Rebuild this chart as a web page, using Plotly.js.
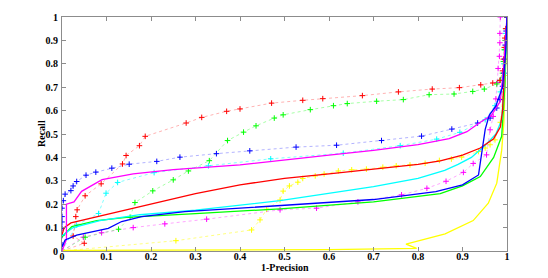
<!DOCTYPE html>
<html>
<head>
<meta charset="utf-8">
<script src="https://cdn.plot.ly/plotly-3.0.1.min.js"></script>
<style>html,body{margin:0;padding:0;background:#fff;}#chart{width:548px;height:278px;}</style>
</head>
<body>
<div id="chart"></div>
<script>
// ---- tick labels ----
const tickVals = [0,0.1,0.2,0.3,0.4,0.5,0.6,0.7,0.8,0.9,1];
const tickText = ["0","0.1","0.2","0.3","0.4","0.5","0.6","0.7","0.8","0.9","1"];

// ---- solid curves (x = 1-Precision, y = Recall) ----
const redSolidX = [0,0.005,0.02,0.1,0.2,0.3,0.4,0.5,0.6,0.7,0.8,0.85,0.9,0.94,0.97,0.985,0.99,0.995,1];
const redSolidY = [0.07,0.1,0.12,0.155,0.2,0.245,0.283,0.31,0.33,0.35,0.37,0.385,0.41,0.44,0.48,0.53,0.6,0.8,1];

const magentaSolidX = [0,0.005,0.01,0.01,0.027,0.044,0.09,0.16,0.25,0.4,0.5,0.6,0.7,0.8,0.87,0.91,0.94,0.965,0.985,0.993,1];
const magentaSolidY = [0,0.03,0.05,0.2,0.21,0.255,0.305,0.33,0.348,0.368,0.39,0.41,0.43,0.455,0.48,0.51,0.55,0.58,0.64,0.8,1];

const cyanSolidX = [0,0.025,0.085,0.175,0.3,0.49,0.7,0.8,0.86,0.89,0.92,0.95,0.975,0.988,0.995,1];
const cyanSolidY = [0.065,0.1,0.13,0.155,0.175,0.215,0.275,0.31,0.345,0.37,0.4,0.45,0.5,0.56,0.75,1];

const blueSolidX = [0,0.007,0.033,0.082,0.104,0.134,0.179,0.276,0.49,0.7,0.84,0.9,0.936,0.945,0.951,0.96,0.975,0.99,0.997,1];
const blueSolidY = [0.018,0.047,0.068,0.09,0.097,0.126,0.147,0.168,0.193,0.22,0.254,0.283,0.325,0.45,0.52,0.58,0.62,0.7,0.85,1];

const greenSolidX = [0,0.022,0.078,0.145,0.3,0.49,0.7,0.85,0.9,0.94,0.97,0.988,0.995,1];
const greenSolidY = [0.06,0.104,0.13,0.144,0.16,0.18,0.21,0.245,0.278,0.318,0.4,0.49,0.7,1];

const yellowSolidX = [0,0.3,0.6,0.797,0.773,0.861,0.924,0.958,0.977,0.988,0.993,0.997,1];
const yellowSolidY = [0.003,0.004,0.006,0.011,0.029,0.073,0.13,0.204,0.29,0.43,0.55,0.8,1];

// ---- dotted curves with "+" markers ----
const redDotX = [0,0.05,0.025,0.031,0.034,0.052,0.088,0.136,0.144,0.174,0.187,0.279,0.314,0.37,0.4,0.471,0.541,0.586,0.675,0.756,0.832,0.893,0.941,0.968,0.984,0.99,0.992,0.994,0.995,0.997,1];
const redDotY = [0,0.033,0.064,0.147,0.176,0.236,0.287,0.372,0.408,0.45,0.49,0.547,0.571,0.597,0.607,0.632,0.644,0.651,0.664,0.68,0.692,0.698,0.71,0.718,0.729,0.77,0.82,0.87,0.91,0.95,1];

const greenDotX = [0,0.052,0.127,0.153,0.164,0.204,0.25,0.284,0.331,0.372,0.408,0.436,0.477,0.497,0.558,0.61,0.641,0.707,0.767,0.825,0.881,0.923,0.949,0.977,0.985,0.99,0.992,0.994,0.996,0.998,1];
const greenDotY = [0,0.059,0.093,0.144,0.207,0.257,0.304,0.342,0.386,0.472,0.508,0.535,0.568,0.582,0.604,0.621,0.63,0.64,0.647,0.668,0.671,0.682,0.692,0.714,0.73,0.76,0.81,0.86,0.9,0.95,1];

const blueDotX = [0,0,0,0,0,0,0,0.003,0.007,0.02,0.025,0.033,0.054,0.076,0.112,0.151,0.213,0.265,0.347,0.422,0.526,0.617,0.718,0.808,0.876,0.934,0.962,0.977,0.984,0.99,0.993,0.995,0.996,0.998,1];
const blueDotY = [0,0.026,0.068,0.097,0.124,0.147,0.183,0.215,0.243,0.258,0.278,0.297,0.324,0.337,0.354,0.371,0.383,0.401,0.416,0.428,0.444,0.452,0.472,0.491,0.521,0.547,0.568,0.611,0.647,0.704,0.76,0.82,0.88,0.94,1];

const cyanDotX = [0,0.033,0.082,0.099,0.125,0.207,0.329,0.469,0.632,0.76,0.842,0.894,0.951,0.973,0.985,0.99,0.993,0.995,0.997,1];
const cyanDotY = [0,0.111,0.16,0.247,0.293,0.335,0.364,0.394,0.418,0.45,0.478,0.507,0.561,0.621,0.68,0.74,0.8,0.86,0.93,1];

const magentaDotX = [0,0.048,0.089,0.16,0.231,0.325,0.49,0.572,0.665,0.763,0.82,0.863,0.902,0.924,0.954,0.962,0.969,0.975,0.978,0.98,0.983,0.984,0.984,0.985];
const magentaDotY = [0,0.059,0.078,0.1,0.116,0.136,0.176,0.183,0.21,0.24,0.268,0.298,0.336,0.374,0.411,0.518,0.575,0.65,0.72,0.78,0.832,0.89,0.93,1];

const yellowDotX = [0,0.256,0.426,0.445,0.46,0.49,0.497,0.511,0.53,0.541,0.569,0.589,0.621,0.651,0.684,0.721,0.751,0.782,0.816,0.848,0.875,0.898,0.936,0.951,0.962,0.973,0.985,0.99,0.994,0.997,1];
const yellowDotY = [0,0.044,0.09,0.133,0.178,0.218,0.256,0.278,0.294,0.31,0.321,0.329,0.342,0.347,0.35,0.358,0.364,0.368,0.375,0.387,0.393,0.401,0.425,0.44,0.454,0.475,0.55,0.65,0.75,0.87,1];

const xTitle = '1-Precision';
const yTitle = 'Recall';

function solid(x, y, color) {
  return {x: x, y: y, type: 'scatter', mode: 'lines', line: {color: color, width: 1.3}, hoverinfo: 'skip'};
}
function dotted(x, y, color, pale) {
  return {x: x, y: y, type: 'scatter', mode: 'lines+markers',
    line: {color: pale, width: 1, dash: 'dot'},
    marker: {symbol: 'cross-thin', size: 4, color: color, line: {color: color, width: 1}},
    hoverinfo: 'skip'};
}

const data = [
  dotted(yellowDotX, yellowDotY, '#ffff00', 'rgba(255,255,0,0.5)'),
  dotted(magentaDotX, magentaDotY, '#ff00ff', 'rgba(255,0,255,0.35)'),
  dotted(cyanDotX, cyanDotY, '#00ffff', 'rgba(0,255,255,0.5)'),
  dotted(greenDotX, greenDotY, '#00ff00', 'rgba(0,255,0,0.35)'),
  dotted(redDotX, redDotY, '#ff0000', 'rgba(255,0,0,0.3)'),
  dotted(blueDotX, blueDotY, '#0000ff', 'rgba(0,0,255,0.3)'),
  solid(yellowSolidX, yellowSolidY, '#ffff00'),
  solid(greenSolidX, greenSolidY, '#00ff00'),
  solid(cyanSolidX, cyanSolidY, '#00ffff'),
  solid(redSolidX, redSolidY, '#ff0000'),
  solid(magentaSolidX, magentaSolidY, '#ff00ff'),
  solid(blueSolidX, blueSolidY, '#0000ff')
];

const serifBold = {family: "'Liberation Serif', 'Times New Roman', serif", size: 10, color: '#000', weight: 'bold'};
const axisCommon = {
  range: [0, 1], tickvals: tickVals, ticktext: tickText,
  ticks: 'inside', ticklen: 4, tickcolor: '#8c8c8c', tickwidth: 1,
  showline: true, linecolor: '#8c8c8c', linewidth: 1, mirror: 'allticks',
  showgrid: false, zeroline: false, tickfont: serifBold, fixedrange: true
};

const layout = {
  width: 548, height: 278,
  margin: {l: 62, r: 41, t: 17, b: 27},
  paper_bgcolor: '#fff', plot_bgcolor: '#fff',
  showlegend: false,
  xaxis: Object.assign({}, axisCommon, {ticklabelstandoff: -4}),
  yaxis: Object.assign({}, axisCommon, {ticklabelstandoff: 1}),
  annotations: [
    {text: xTitle, xref: 'paper', yref: 'paper', x: 0.5, y: 0, xanchor: 'center', yanchor: 'middle',
     yshift: -16, showarrow: false, font: serifBold},
    {text: yTitle, xref: 'paper', yref: 'paper', x: 0, y: 0.5, xanchor: 'center', yanchor: 'middle',
     xshift: -21, textangle: -90, showarrow: false, font: serifBold}
  ]
};

Plotly.newPlot('chart', data, layout, {staticPlot: true, displayModeBar: false});
</script>
</body>
</html>
